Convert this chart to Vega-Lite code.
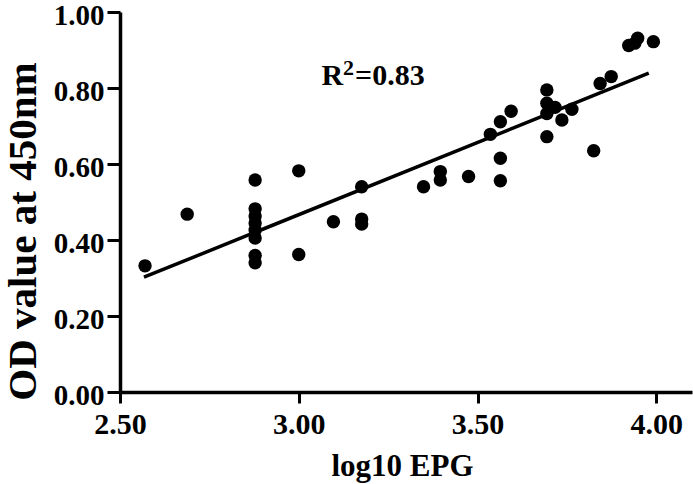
{
  "$schema": "https://vega.github.io/schema/vega-lite/v6.json",
  "width": 572,
  "height": 380,
  "autosize": {"type": "none"},
  "padding": {"left": 120, "top": 12, "right": 1, "bottom": 92},
  "background": "white",
  "config": {
    "view": {"stroke": null},
    "font": "Liberation Serif",
    "axis": {
      "domainColor": "black",
      "domainWidth": 3.5,
      "tickColor": "black",
      "tickWidth": 3,
      "grid": false,
      "labelFont": "Liberation Serif",
      "labelFontWeight": "bold",
      "labelColor": "black",
      "titleFont": "Liberation Serif",
      "titleFontWeight": "bold",
      "titleColor": "black"
    }
  },
  "datasets": {
    "points": [
      {"epg": 2.570, "od": 0.332},
      {"epg": 2.688, "od": 0.468},
      {"epg": 2.878, "od": 0.558},
      {"epg": 2.878, "od": 0.482},
      {"epg": 2.878, "od": 0.463},
      {"epg": 2.878, "od": 0.445},
      {"epg": 2.878, "od": 0.426},
      {"epg": 2.878, "od": 0.405},
      {"epg": 2.878, "od": 0.359},
      {"epg": 2.878, "od": 0.340},
      {"epg": 3.000, "od": 0.582},
      {"epg": 3.000, "od": 0.362},
      {"epg": 3.097, "od": 0.448},
      {"epg": 3.176, "od": 0.540},
      {"epg": 3.176, "od": 0.455},
      {"epg": 3.176, "od": 0.442},
      {"epg": 3.349, "od": 0.540},
      {"epg": 3.396, "od": 0.580},
      {"epg": 3.396, "od": 0.558},
      {"epg": 3.475, "od": 0.567},
      {"epg": 3.536, "od": 0.678},
      {"epg": 3.564, "od": 0.711},
      {"epg": 3.564, "od": 0.615},
      {"epg": 3.564, "od": 0.556},
      {"epg": 3.594, "od": 0.739},
      {"epg": 3.694, "od": 0.795},
      {"epg": 3.694, "od": 0.760},
      {"epg": 3.694, "od": 0.733},
      {"epg": 3.694, "od": 0.672},
      {"epg": 3.717, "od": 0.749},
      {"epg": 3.736, "od": 0.716},
      {"epg": 3.764, "od": 0.744},
      {"epg": 3.825, "od": 0.635},
      {"epg": 3.843, "od": 0.812},
      {"epg": 3.874, "od": 0.830},
      {"epg": 3.923, "od": 0.912},
      {"epg": 3.940, "od": 0.918},
      {"epg": 3.948, "od": 0.931},
      {"epg": 3.992, "od": 0.922}
    ],
    "fit": [
      {"epg": 2.567, "od": 0.302},
      {"epg": 3.979, "od": 0.839}
    ],
    "label": [
      {"epg": 3.124, "od": 0.808}
    ]
  },
  "layer": [
    {
      "data": {"name": "points"},
      "mark": {"type": "point", "filled": true, "shape": "circle", "size": 180, "color": "black", "opacity": 1},
      "encoding": {
        "x": {
          "field": "epg", "type": "quantitative",
          "scale": {"domain": [2.5, 4.1], "nice": false, "zero": false},
          "axis": {
            "title": "log10 EPG",
            "values": [2.5, 3.0, 3.5, 4.0],
            "format": ".2f",
            "labelFontSize": 30,
            "labelBaseline": "alphabetic",
            "labelPadding": 30,
            "tickSize": 11,
            "titleFontSize": 31,
            "titleBaseline": "alphabetic",
            "titleY": 83,
            "titleX": 282,
            "labelFlush": false,
            "labelOverlap": false
          }
        },
        "y": {
          "field": "od", "type": "quantitative",
          "scale": {"domain": [0, 1], "nice": false},
          "axis": {
            "title": "OD value at 450nm",
            "values": [0, 0.2, 0.4, 0.6, 0.8, 1.0],
            "format": ".2f",
            "labelFontSize": 29,
            "labelPadding": 3,
            "labelOffset": 3,
            "tickSize": 13,
            "titleFontSize": 41,
            "titleAngle": -90,
            "titleBaseline": "alphabetic",
            "titleX": -85,
            "titleY": 219,
            "labelFlush": false,
            "labelOverlap": false
          }
        }
      }
    },
    {
      "data": {"name": "fit"},
      "mark": {"type": "line", "color": "black", "strokeWidth": 3.5},
      "encoding": {
        "x": {"field": "epg", "type": "quantitative"},
        "y": {"field": "od", "type": "quantitative"}
      }
    },
    {
      "data": {"name": "label"},
      "mark": {"type": "text", "text": "R", "font": "Liberation Serif", "fontWeight": "bold", "fontSize": 30, "align": "right", "baseline": "alphabetic", "color": "black"},
      "encoding": {
        "x": {"field": "epg", "type": "quantitative"},
        "y": {"field": "od", "type": "quantitative"}
      }
    },
    {
      "data": {"name": "label"},
      "mark": {"type": "text", "text": "2", "font": "Liberation Serif", "fontWeight": "bold", "fontSize": 22, "align": "left", "baseline": "alphabetic", "dx": 0, "dy": -10, "color": "black"},
      "encoding": {
        "x": {"field": "epg", "type": "quantitative"},
        "y": {"field": "od", "type": "quantitative"}
      }
    },
    {
      "data": {"name": "label"},
      "mark": {"type": "text", "text": "=0.83", "font": "Liberation Serif", "fontWeight": "bold", "fontSize": 30, "align": "left", "baseline": "alphabetic", "dx": 12, "color": "black"},
      "encoding": {
        "x": {"field": "epg", "type": "quantitative"},
        "y": {"field": "od", "type": "quantitative"}
      }
    }
  ]
}
